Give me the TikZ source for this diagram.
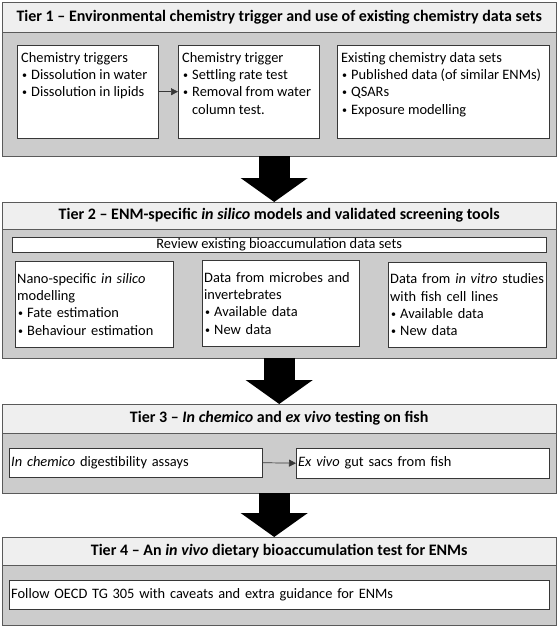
\documentclass[tikz,border=0pt]{standalone}
\usepackage{fontspec}
\setmainfont{Carlito}
\usetikzlibrary{positioning,arrows.meta}
\definecolor{tierhead}{RGB}{239,239,239}
\definecolor{tierbody}{RGB}{204,204,204}
\definecolor{tierline}{RGB}{90,90,90}
\definecolor{boxline}{RGB}{55,55,55}
\newcommand{\bul}{\makebox[10pt][l]{\hspace{1pt}\raisebox{0.15ex}{\fontsize{10}{10}\selectfont\textbullet}}}

\begin{document}
\begin{tikzpicture}[x=1pt,y=-1pt,
    head/.style={draw=tierline,fill=tierhead,anchor=north west,minimum width=554pt,inner sep=0pt,font=\fontsize{16}{19}\selectfont\bfseries},
    body/.style={draw=tierline,fill=tierbody,anchor=north west,minimum width=554pt,inner sep=0pt},
    item/.style={draw=boxline,fill=white,anchor=north west,inner xsep=2pt,inner ysep=0pt,align=left,font=\fontsize{14.4}{17.3}\selectfont},
    topitem/.style={draw=boxline,fill=white,anchor=north west,inner xsep=4pt,inner ysep=7pt,font=\fontsize{14.4}{17.3}\selectfont},
    link/.style={draw=boxline,line width=0.7pt,-{Triangle[length=7pt,width=7pt]}},
    bigarrow/.style={line width=31pt,-{Triangle[length=24pt,width=66pt]}}]
    \useasboundingbox (0,0) rectangle (558,627);

    % Tier 1
    \node[head,minimum height=30pt] (t1head) at (2,2) {Tier 1 -- Environmental chemistry trigger and use of existing chemistry data sets};
    \node[body,minimum height=124pt] (t1body) at (2,32) {};
    \node[topitem] (trig) at (17,45) {\parbox[c][79pt][t]{133pt}{Chemistry triggers\\\bul Dissolution in water\\\bul Dissolution in lipids}};
    \node[topitem] (settle) at (178,45) {\parbox[c][79pt][t]{133pt}{Chemistry trigger\\\bul Settling rate test\\\bul Removal from water\\\hspace*{10pt}column test.}};
    \node[topitem] (existing) at (337,45) {\parbox[c][79pt][t]{204pt}{Existing chemistry data sets\\\bul Published data (of similar ENMs)\\\bul QSARs\\\bul Exposure modelling}};

    % Tier 2
    \node[head,minimum height=27pt] (t2head) at (2,202) {Tier 2 -- ENM-specific \textit{in silico} models and validated screening tools};
    \node[body,minimum height=129pt] (t2body) at (2,229) {};
    \node[item,align=center,minimum width=534pt,minimum height=15pt] (review) at (12,237) {Review existing bioaccumulation data sets};
    \node[item,text width=154pt,minimum height=86pt] (silico) at (15,261) {Nano-specific \textit{in silico}\\modelling\\\bul Fate estimation\\\bul Behaviour estimation};
    \node[item,text width=153pt,minimum height=86pt] (microbes) at (202,260) {Data from microbes and\\invertebrates\\\bul Available data\\\bul New data};
    \node[item,text width=154pt,minimum height=85pt] (vitro) at (388,262) {Data from \textit{in vitro} studies\\with fish cell lines\\\bul Available data\\\bul New data};

    % Tier 3
    \node[head,minimum height=29pt] (t3head) at (2,404) {Tier 3 -- \textit{In chemico} and \textit{ex vivo} testing on fish};
    \node[body,minimum height=60pt] (t3body) at (2,433) {};
    \node[item,text width=249pt,minimum height=29pt] (chemico) at (9,448) {\textit{In chemico} digestibility assays};
    \node[item,text width=249pt,minimum height=30pt] (exvivo) at (296,448) {\textit{Ex vivo} gut sacs from fish};

    % Tier 4
    \node[head,minimum height=28pt] (t4head) at (2,537) {Tier 4 -- An \textit{in vivo} dietary bioaccumulation test for ENMs};
    \node[body,minimum height=60pt] (t4body) at (2,565) {};
    \node[item,text width=536pt,minimum height=29pt] (oecd) at (9,580) {Follow OECD TG 305 with caveats and extra guidance for ENMs};

    % Arrows
    \draw[link] (trig.east) -- (settle.west);
    \draw[link] (chemico.east) -- (exvivo.west);
    \draw[bigarrow] ([xshift=-5pt]t1body.south) -- ([xshift=-5pt]t2head.north);
    \draw[bigarrow] (t2body.south) -- (t3head.north);
    \draw[bigarrow] ([xshift=-5pt]t3body.south) -- ([xshift=-5pt]t4head.north);
\end{tikzpicture}
\end{document}
